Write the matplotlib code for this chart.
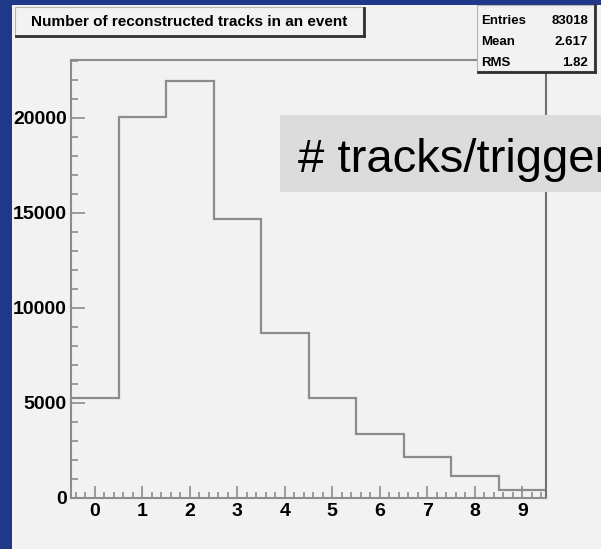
"""
Number of reconstructed tracks per event - ROOT-style histogram on a slide panel.
"""

import matplotlib
matplotlib.use("Agg")
import matplotlib.pyplot as plt
from matplotlib.patches import Rectangle
from matplotlib.lines import Line2D
from matplotlib.ticker import MultipleLocator

# --- data ---
bin_edges = [-0.5, 0.5, 1.5, 2.5, 3.5, 4.5, 5.5, 6.5, 7.5, 8.5, 9.5]
counts = [5250, 20050, 21960, 14690, 8680, 5250, 3370, 2120, 1120, 380]
x_ticks = [0, 1, 2, 3, 4, 5, 6, 7, 8, 9]
y_ticks = [0, 5000, 10000, 15000, 20000]
title = "Number of reconstructed tracks in an event"
stats_names = ["Entries", "Mean", "RMS"]
stats_values = ["83018", "2.617", "1.82"]
note = "# tracks/trigger"

W, H = 601, 549
BLUE = "#1F3888"
PANEL = "#F2F2F2"
LINE = "#8C8C8C"
FONT = "Liberation Sans"


def fx(px):
    return px / W


def fy(py):
    return 1 - py / H


fig = plt.figure(figsize=(W / 100, H / 100), dpi=100, facecolor=BLUE)

# light panel of the slide (below the axes)
fig.patches.append(Rectangle((fx(12), 0), 1, fy(5), transform=fig.transFigure,
                             facecolor=PANEL, edgecolor="none", zorder=-1))

# frame: x 71..546, y 60..497.5 (pixels)
ax = fig.add_axes([fx(71), fy(497.5), fx(546) - fx(71), fy(60) - fy(497.5)])
ax.set_zorder(1)
ax.set_facecolor(PANEL)
ax.stairs(counts, bin_edges, color=LINE, linewidth=1.6, baseline=None)
ax.set_xlim(-0.5, 9.5)
ax.set_ylim(0, 23050)

for side in ["left", "bottom", "top", "right"]:
    ax.spines[side].set_color(LINE)
    ax.spines[side].set_linewidth(1.5)
ax.spines["right"].set_color("#707070")

ax.set_xticks(x_ticks)
ax.xaxis.set_minor_locator(MultipleLocator(0.2))
ax.set_yticks(y_ticks)
ax.yaxis.set_minor_locator(MultipleLocator(1000))
ax.tick_params(axis="x", which="major", direction="in", length=8.6, width=1.2,
               color=LINE, pad=4)
ax.tick_params(axis="x", which="minor", direction="in", length=4.3, width=1.2,
               color=LINE)
ax.tick_params(axis="y", which="major", direction="in", length=10, width=1.2,
               color=LINE, pad=3)
ax.tick_params(axis="y", which="minor", direction="in", length=5, width=1.2,
               color=LINE)
for lab in ax.get_xticklabels() + ax.get_yticklabels():
    lab.set_fontfamily(FONT)
    lab.set_fontweight("bold")
    lab.set_fontsize(14)

# title pave with shadow
fig.patches.append(Rectangle((fx(15), fy(36)), fx(363) - fx(15), fy(7) - fy(36),
                             transform=fig.transFigure, facecolor=PANEL,
                             edgecolor="#B4B4B4", linewidth=0.8, zorder=3))
fig.lines.append(Line2D([fx(16), fx(364)], [fy(36), fy(36)], transform=fig.transFigure,
                        color="#303030", linewidth=2, zorder=4))
fig.lines.append(Line2D([fx(364), fx(364)], [fy(8), fy(36)], transform=fig.transFigure,
                        color="#303030", linewidth=2, zorder=4))
fig.text(fx(189), fy(22), title, ha="center", va="center", fontsize=11.0,
         fontweight="bold", family=FONT, zorder=5)

# stats pave with shadow
fig.patches.append(Rectangle((fx(477), fy(71)), fx(594) - fx(477), fy(5) - fy(71),
                             transform=fig.transFigure, facecolor=PANEL,
                             edgecolor="#B4B4B4", linewidth=0.8, zorder=3))
fig.lines.append(Line2D([fx(478), fx(595)], [fy(71.5), fy(71.5)], transform=fig.transFigure,
                        color="#303030", linewidth=2, zorder=4))
fig.lines.append(Line2D([fx(595), fx(595)], [fy(5), fy(71.5)], transform=fig.transFigure,
                        color="#303030", linewidth=2, zorder=4))
for i, (name, val) in enumerate(zip(stats_names, stats_values)):
    yy = fy(20.5 + 21.3 * i)
    fig.text(fx(481), yy, name, ha="left", va="center", fontsize=9.5,
             fontweight="bold", family=FONT, zorder=5)
    fig.text(fx(588), yy, val, ha="right", va="center", fontsize=9.5,
             fontweight="bold", family=FONT, zorder=5)

# grey label box, running off the right edge as in the slide
fig.patches.append(Rectangle((fx(280), fy(192)), 1, fy(115) - fy(192),
                             transform=fig.transFigure, facecolor="#DCDCDC",
                             edgecolor="none", zorder=3))
fig.text(fx(298), fy(172), note, ha="left", va="baseline", fontsize=34,
         family=FONT, color="black", zorder=5)

fig.savefig("out.png", dpi=100, facecolor=BLUE)
